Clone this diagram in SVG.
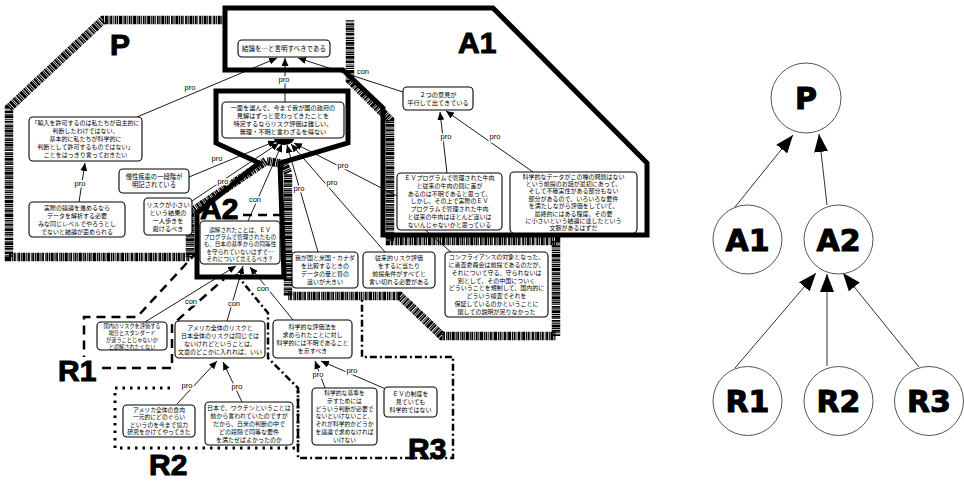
<svg xmlns="http://www.w3.org/2000/svg" width="964" height="483" viewBox="0 0 964 483">
<style>
  .box{fill:#fff;stroke:#000;stroke-width:1.1}
  .t{font-family:"Noto Sans CJK JP","Noto Sans CJK SC",sans-serif;text-anchor:middle;fill:#000}
  .e{stroke:#000;stroke-width:0.9;fill:none;marker-end:url(#ah)}
  .lbl{font-family:"Liberation Sans",Arial,sans-serif;font-size:7.5px;text-anchor:middle;fill:#000;stroke:#fff;stroke-width:3;paint-order:stroke}
  .band{fill:none;stroke:#000;stroke-width:8.5;stroke-dasharray:2 0.7 1 0.6 3 0.8 1.2 0.6 1.8 1 0.8 0.6}
  .thick{fill:none;stroke:#000;stroke-width:5;stroke-linejoin:miter}
  .big{font-family:"Liberation Sans",Arial,sans-serif;font-weight:bold;font-size:30px;fill:#000;stroke:#000;stroke-width:1}
  .circ{fill:#fff;stroke:#555;stroke-width:1}
  .clbl{font-family:"DejaVu Sans",sans-serif;font-weight:bold;font-size:30px;text-anchor:middle;fill:#000;stroke:#000;stroke-width:1}
  .te{stroke:#333;stroke-width:1;fill:none;marker-end:url(#bh)}
</style>
<defs>
  <marker id="ah" markerUnits="userSpaceOnUse" markerWidth="8" markerHeight="7" refX="8" refY="3.5" orient="auto">
    <path d="M0,0 L8,3.5 L0,7 z" fill="#000"/>
  </marker>
  <marker id="bh" markerUnits="userSpaceOnUse" markerWidth="18" markerHeight="14" refX="18" refY="7" orient="auto">
    <path d="M0,0 L18,7 L0,14 z" fill="#000"/>
  </marker>
</defs>
<rect width="964" height="483" fill="#fff"/>

<g id="regions">
  <path class="band" d="M 225 20 H 103 L 9 108 V 257 H 190 V 213 L 266 161 L 284 164 L 288 173 V 296 H 400 L 442 336 H 556 V 241 H 390 V 120 L 350 80 V 20"/>
  <path class="thick" d="M 225 8 H 493 L 647 163 V 235 H 383 V 108 L 343 70 H 225 Z"/>
  <path class="thick" stroke-width="6" d="M 216 91 H 348 V 143 L 280 163 L 284 277 H 197 V 213 L 259 163 L 216 143 Z"/>
  <path fill="none" stroke="#000" stroke-width="2.5" stroke-dasharray="9 6" d="M 102 368 H 172 V 325 L 224 279 M 243 215 H 283 M 197 252 L 137 317 H 84 V 357"/>
  <path fill="none" stroke="#000" stroke-width="3" stroke-dasharray="2.5 5" d="M 170 388 H 115 V 448 H 298 V 390"/>
  <path fill="none" stroke="#000" stroke-width="2.5" stroke-dasharray="7 3 2 3" d="M 236 274 L 268 313 V 358 L 298 388 V 458 H 453 V 357 H 362 V 298"/>
  <text class="big" x="110" y="55" font-size="28">P</text>
  <text class="big" x="458" y="53" font-size="29">A1</text>
  <text class="big" x="200" y="219">A2</text>
  <text class="big" x="58" y="381" font-size="29">R1</text>
  <text class="big" x="149" y="475">R2</text>
  <text class="big" x="408" y="459">R3</text>
</g>

<g id="connectors">
  <line class="e" x1="137" y1="117" x2="277" y2="58"/>
  <line class="e" x1="285" y1="102" x2="285" y2="58"/>
  <line class="e" x1="403" y1="92" x2="298" y2="58"/>
  <line class="e" x1="79" y1="202" x2="85" y2="163"/>
  <line class="e" x1="447" y1="173" x2="440" y2="112"/>
  <line class="e" x1="533" y1="172" x2="446" y2="111"/>
  <line class="e" x1="189" y1="177" x2="276" y2="141"/>
  <line class="e" x1="192" y1="201" x2="279" y2="143"/>
  <line class="e" x1="248" y1="221" x2="282" y2="144"/>
  <line class="e" x1="318" y1="252" x2="287" y2="145"/>
  <line class="e" x1="385" y1="252" x2="291" y2="144"/>
  <line class="e" x1="397" y1="196" x2="294" y2="143"/>
  <line stroke="#000" stroke-width="0.9" x1="452" y1="253" x2="414" y2="220"/>
  <path d="M 274 139 A 10 6 0 0 0 294 139 Z" fill="#000"/>
  <line class="e" x1="145" y1="322" x2="236" y2="266"/>
  <line class="e" x1="227" y1="321" x2="243" y2="266"/>
  <line class="e" x1="293" y1="320" x2="250" y2="267"/>
  <line class="e" x1="177" y1="404" x2="217" y2="361"/>
  <line class="e" x1="242" y1="402" x2="223" y2="362"/>
  <line class="e" x1="325" y1="388" x2="315" y2="361"/>
  <line class="e" x1="388" y1="390" x2="321" y2="361"/>
  <text class="lbl" x="190" y="90">pro</text>
  <text class="lbl" x="284" y="82">pro</text>
  <text class="lbl" x="363" y="74">con</text>
  <text class="lbl" x="80" y="186">pro</text>
  <text class="lbl" x="446" y="139">pro</text>
  <text class="lbl" x="495" y="139">pro</text>
  <text class="lbl" x="217" y="161">pro</text>
  <text class="lbl" x="223" y="184">pro</text>
  <text class="lbl" x="255" y="202">con</text>
  <text class="lbl" x="299" y="191">pro</text>
  <text class="lbl" x="332" y="185">pro</text>
  <text class="lbl" x="343" y="168">pro</text>
  <text class="lbl" x="191" y="304">con</text>
  <text class="lbl" x="234" y="306">con</text>
  <text class="lbl" x="263" y="291">con</text>
  <text class="lbl" x="187" y="388">pro</text>
  <text class="lbl" x="237" y="389">pro</text>
  <text class="lbl" x="318" y="377">pro</text>
  <text class="lbl" x="352" y="373">pro</text>
</g>

<g id="n-root"><rect class="box" x="238" y="40" width="92" height="17" rx="4"/>
  <text class="t" x="284" y="51" font-size="6.5">結論を…と言明すべきである</text></g>

<g id="n-center"><rect class="box" x="222" y="102" width="122" height="36" rx="4"/>
  <text class="t" font-size="6.2"><tspan x="283" y="110.4">一面を選んで、今まで我が国の政府の</tspan><tspan x="283" y="118.4">見解はずっと変わってきたことを</tspan><tspan x="283" y="126.4">特定するならリスク評価は難しい、</tspan><tspan x="283" y="134.4">無理・不明と言わざるを得ない</tspan></text></g>

<g id="n-quote"><rect class="box" x="29" y="117" width="113" height="44" rx="4"/>
  <text class="t" font-size="6"><tspan x="85.5" y="125">「輸入を許可するのは私たちが自主的に</tspan><tspan x="85.5" y="133">判断したわけではない、</tspan><tspan x="85.5" y="141">基本的に私たちが科学的に</tspan><tspan x="85.5" y="149">判断として許可するものではない」</tspan><tspan x="85.5" y="157">ことをはっきり言っておきたい</tspan></text></g>

<g id="n-jissai"><rect class="box" x="29" y="202" width="96" height="35" rx="4"/>
  <text class="t" font-size="6"><tspan x="77" y="209.5">実際の議論を進めるなら</tspan><tspan x="77" y="217.5">データを解析する必要</tspan><tspan x="77" y="225.5">みな同じレベルでやろうとし</tspan><tspan x="77" y="233.5">でないと結論が歪められる</tspan></text></g>

<g id="n-mansei"><rect class="box" x="119" y="169" width="70" height="24" rx="4"/>
  <text class="t" font-size="6.3"><tspan x="154" y="179">慢性疾患の一段階が</tspan><tspan x="154" y="187">明記されている</tspan></text></g>

<g id="n-risk"><rect class="box" x="144" y="198" width="48" height="37" rx="4"/>
  <text class="t" font-size="6.2"><tspan x="168" y="206.5">リスクが小さい</tspan><tspan x="168" y="214.5">という結果の</tspan><tspan x="168" y="222.5">一人歩きを</tspan><tspan x="168" y="230.5">避けるべき</tspan></text></g>

<g id="n-a2"><rect class="box" x="200" y="221" width="80" height="43" rx="4"/>
  <text class="t" font-size="5.6"><tspan x="240" y="231.5">誤解されたことは、ＥＶ</tspan><tspan x="240" y="238.9">プログラムで管理されたもの</tspan><tspan x="240" y="246.3">も、日本の基準からの同等性</tspan><tspan x="240" y="253.7">を守られていないはずで…</tspan><tspan x="240" y="261.1">それについて言えるべき？</tspan></text></g>

<g id="n-two"><rect class="box" x="403" y="87" width="70" height="23" rx="4"/>
  <text class="t" font-size="6.2"><tspan x="438" y="96.5">２つの意見が</tspan><tspan x="438" y="104.5">平行して出てきている</tspan></text></g>

<g id="n-ev"><rect class="box" x="397" y="173" width="105" height="57" rx="4"/>
  <text class="t" font-size="6"><tspan x="449.5" y="180">ＥＶプログラムで管理された牛肉</tspan><tspan x="449.5" y="187.8">と従来の牛肉の間に差が</tspan><tspan x="449.5" y="195.6">あるのは不明であると思って、</tspan><tspan x="449.5" y="203.4">しかし、その上で実際のＥＶ</tspan><tspan x="449.5" y="211.2">プログラムで管理された牛肉</tspan><tspan x="449.5" y="219">と従来の牛肉はほとんど違いは</tspan><tspan x="449.5" y="226.8">ないんじゃないかと思っている</tspan></text></g>

<g id="n-sci"><rect class="box" x="510" y="172" width="127" height="61" rx="4"/>
  <text class="t" font-size="6"><tspan x="573.5" y="178.5">科学的なデータがこの種の問題はない</tspan><tspan x="573.5" y="185.9">という前提のお話が最初にあって、</tspan><tspan x="573.5" y="193.3">そして不確実性がある部分もない</tspan><tspan x="573.5" y="200.7">部分があるので、いろいろな要件</tspan><tspan x="573.5" y="208.1">を満たしながら評価をしていて、</tspan><tspan x="573.5" y="215.5">最終的にはある程度、その要</tspan><tspan x="573.5" y="222.9">に小さいという結論に達したという</tspan><tspan x="573.5" y="230.3">文脈があるはずだ</tspan></text></g>

<g id="n-wagakuni"><rect class="box" x="292" y="252" width="66" height="36" rx="4"/>
  <text class="t" font-size="6"><tspan x="325" y="260">我が国と米国・カナダ</tspan><tspan x="325" y="268">を比較するときの</tspan><tspan x="325" y="276">データの量と質の</tspan><tspan x="325" y="284">違いが大きい</tspan></text></g>

<g id="n-jurai"><rect class="box" x="363" y="252" width="72" height="36" rx="4"/>
  <text class="t" font-size="6"><tspan x="399" y="260">従来的リスク評価</tspan><tspan x="399" y="268">をするに当たり</tspan><tspan x="399" y="276">前提条件がすべてと</tspan><tspan x="399" y="284">言い切れる必要がある</tspan></text></g>

<g id="n-conf"><rect class="box" x="445" y="252" width="103" height="65" rx="4"/>
  <text class="t" font-size="6"><tspan x="496.5" y="259.2">コンフライアンスの対象となった、</tspan><tspan x="496.5" y="267">に審査委員会は前提であるのだが、</tspan><tspan x="496.5" y="274.8">それについて守る、守られないは</tspan><tspan x="496.5" y="282.6">別として、その中国についく</tspan><tspan x="496.5" y="290.4">どういうことを規制して、国内的に</tspan><tspan x="496.5" y="298.2">どういう検査でそれを</tspan><tspan x="496.5" y="306">保証しているのかということに</tspan><tspan x="496.5" y="313.8">関しての説明が足りなかった</tspan></text></g>

<g id="n-r1"><rect class="box" x="97" y="322" width="70" height="28" rx="4"/>
  <text class="t" font-size="5.2"><tspan x="132" y="328.2">国内のリスクを評価する</tspan><tspan x="132" y="335">場合とスタンダード</tspan><tspan x="132" y="341.8">が違うことじゃないか</tspan><tspan x="132" y="348.6">と誤解されたくない</tspan></text></g>

<g id="n-r2"><rect class="box" x="175" y="321" width="90" height="37" rx="4"/>
  <text class="t" font-size="6"><tspan x="220" y="329.5">アメリカ全体のリスクと</tspan><tspan x="220" y="337.5">日本全体のリスクは同じでは</tspan><tspan x="220" y="345.5">ないけれどということは、</tspan><tspan x="220" y="353.5">文章のどこかに入れれば、いい</tspan></text></g>

<g id="n-r3"><rect class="box" x="273" y="320" width="79" height="38" rx="4"/>
  <text class="t" font-size="6"><tspan x="312.5" y="328.5">科学的な評価法を</tspan><tspan x="312.5" y="336.5">求められたことに対し</tspan><tspan x="312.5" y="344.5">科学的には不明であること</tspan><tspan x="312.5" y="352.5">を示すべき</tspan></text></g>

<g id="n-r2a"><rect class="box" x="123" y="405" width="72" height="32" rx="4"/>
  <text class="t" font-size="5.8"><tspan x="159" y="411.6">アメリカ全体の食肉</tspan><tspan x="159" y="419.1">一元的にどのぐらい</tspan><tspan x="159" y="426.6">というのを今まで協力</tspan><tspan x="159" y="434.1">研究をかけてやってきた</tspan></text></g>

<g id="n-r2b"><rect class="box" x="205" y="402" width="88" height="43" rx="4"/>
  <text class="t" font-size="6"><tspan x="249" y="409.5">日本で、ワクチンということは</tspan><tspan x="249" y="417.5">前から言われていたのですが</tspan><tspan x="249" y="425.5">だから、日米の判断の中で</tspan><tspan x="249" y="433.5">どの段階で同等な要件</tspan><tspan x="249" y="441.5">を満たせばよかったのか</tspan></text></g>

<g id="n-r3a"><rect class="box" x="312" y="388" width="65" height="57" rx="4"/>
  <text class="t" font-size="5.8"><tspan x="344.5" y="395">科学的な基準を</tspan><tspan x="344.5" y="402.8">示すためには</tspan><tspan x="344.5" y="410.6">どういう判断が必要で</tspan><tspan x="344.5" y="418.4">ないといけないこと、</tspan><tspan x="344.5" y="426.2">それが科学的かどうか</tspan><tspan x="344.5" y="434">を議論で求めなければ</tspan><tspan x="344.5" y="441.8">いけない</tspan></text></g>

<g id="n-r3b"><rect class="box" x="384" y="387" width="53" height="30" rx="4"/>
  <text class="t" font-size="6"><tspan x="410.5" y="396">ＥＶの制度を</tspan><tspan x="410.5" y="404">見ていても</tspan><tspan x="410.5" y="412">科学的ではない</tspan></text></g>

<g id="tree-connectors">
  <line class="te" x1="735" y1="207" x2="793" y2="135"/>
  <line class="te" x1="827" y1="205" x2="819" y2="134"/>
  <line class="te" x1="735" y1="368" x2="816" y2="273"/>
  <line class="te" x1="827" y1="366" x2="827" y2="274"/>
  <line class="te" x1="919" y1="367" x2="843" y2="273"/>
</g>
<g id="t-P"><circle class="circ" cx="806" cy="98" r="35"/><text class="clbl" x="806" y="109">P</text></g>
<g id="t-A1"><circle class="circ" cx="747.5" cy="239.5" r="34.5"/><text class="clbl" x="747.5" y="250.5">A1</text></g>
<g id="t-A2"><circle class="circ" cx="838.5" cy="239.5" r="34.5"/><text class="clbl" x="838.5" y="250.5">A2</text></g>
<g id="t-R1"><circle class="circ" cx="747.5" cy="401" r="34.5"/><text class="clbl" x="747.5" y="412">R1</text></g>
<g id="t-R2"><circle class="circ" cx="838.5" cy="401" r="34.5"/><text class="clbl" x="838.5" y="412">R2</text></g>
<g id="t-R3"><circle class="circ" cx="929" cy="401" r="34.5"/><text class="clbl" x="929" y="412">R3</text></g>
</svg>
